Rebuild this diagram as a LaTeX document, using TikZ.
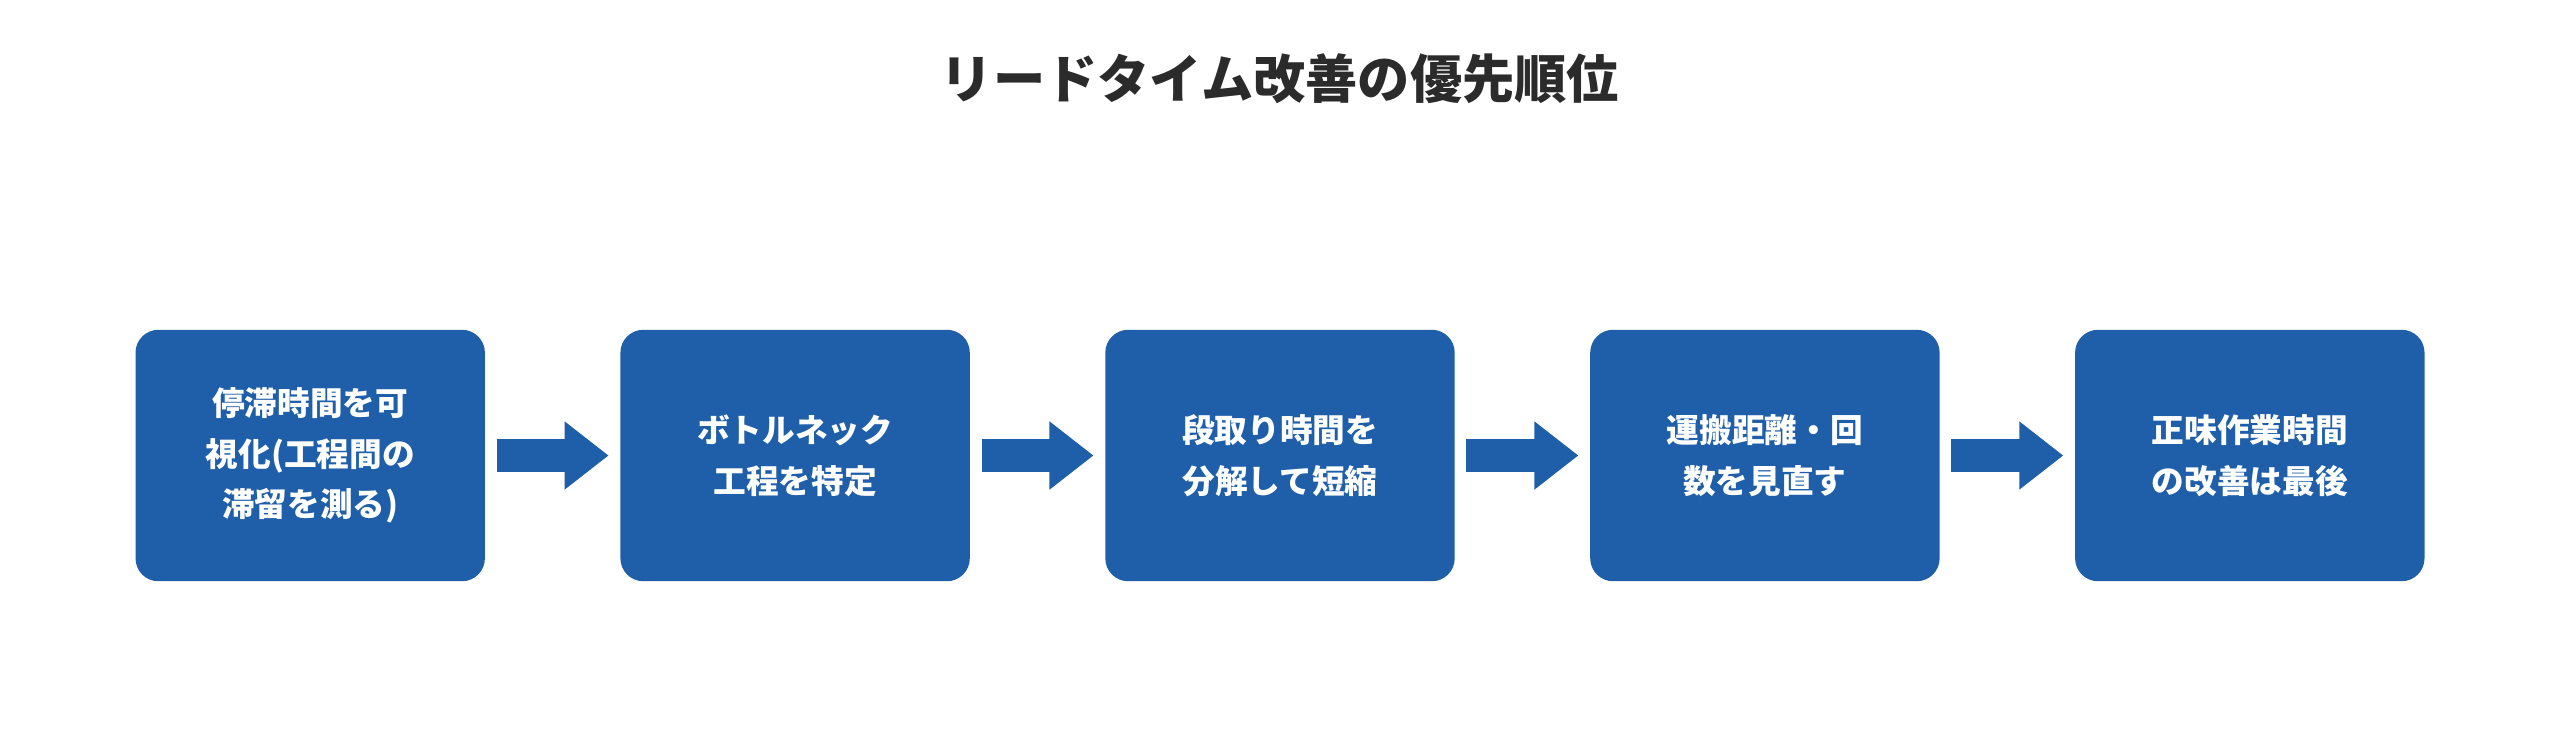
\documentclass[tikz,border=0pt]{standalone}
\usepackage{fontspec}
\setmainfont{Noto Sans CJK JP}
\usetikzlibrary{arrows.meta}
\definecolor{boxblue}{HTML}{1F5EA8}
\definecolor{titlegray}{HTML}{2B2B2B}
\begin{document}
\begin{tikzpicture}[x=1pt,y=-1pt,
  box/.style={fill=boxblue,rounded corners=14pt,minimum width=214pt,minimum height=154pt,inner sep=0pt,
    text=white,font=\fontsize{20}{31}\selectfont\bfseries,align=center,text width=190pt},
  arr/.style={draw=boxblue,line width=20pt,-{Triangle[length=27pt,width=40pt]},shorten <=7pt,shorten >=7pt}]
\useasboundingbox (0,0) rectangle (1568,463);
\node[font=\fontsize{32}{38}\selectfont\bfseries,text=titlegray] (title) at (784,48) {リードタイム改善の優先順位};
\node[box] (b1) at (190,279) {停滞時間を可\\視化(工程間の\\滞留を測る)};
\node[box] (b2) at (487,279) {ボトルネック\\工程を特定};
\node[box] (b3) at (784,279) {段取り時間を\\分解して短縮};
\node[box] (b4) at (1081,279) {運搬距離・回\\数を見直す};
\node[box] (b5) at (1378,279) {正味作業時間\\の改善は最後};
\draw[arr] (b1) -- (b2);
\draw[arr] (b2) -- (b3);
\draw[arr] (b3) -- (b4);
\draw[arr] (b4) -- (b5);
\end{tikzpicture}
\end{document}
